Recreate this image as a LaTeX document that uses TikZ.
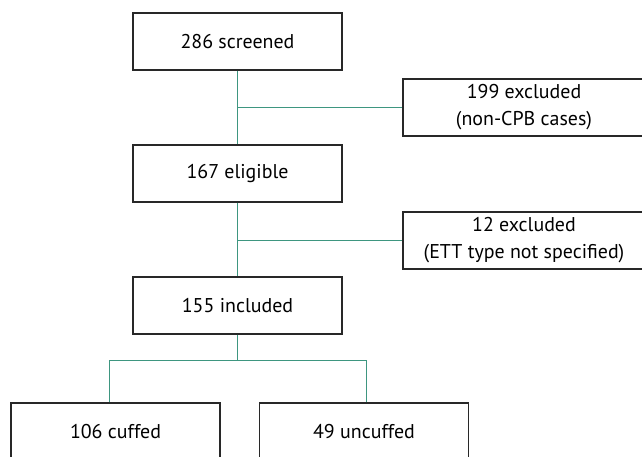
\documentclass[tikz,border=0pt]{standalone}
\usepackage{fontspec}
\setmainfont{PT Sans}
\definecolor{conn}{RGB}{62,150,128}
\definecolor{boxline}{RGB}{40,40,40}
\begin{document}
\begin{tikzpicture}[x=1bp,y=-1bp,
  box/.style={draw=boxline,line width=1.3bp,fill=white,minimum width=209bp,minimum height=57bp,inner sep=0pt,align=center,font=\fontsize{20}{27}\selectfont},
  exbox/.style={box,minimum width=242bp},
  conline/.style={draw=conn,line width=1.2bp}]
\useasboundingbox (0,0) rectangle (642,457);
\clip (0,0) rectangle (642,457);
\node[box] (s) at (237.5,41.5) {286 screened};
\node[exbox] (e1) at (524,107.5) {199 excluded\\(non-CPB cases)};
\node[box] (el) at (237.5,173.5) {167 eligible};
\node[exbox] (e2) at (524,240.5) {12 excluded\\(ETT type not specified)};
\node[box] (in) at (237.5,305.5) {155 included};
\node[box] (cu) at (115.5,431.5) {106 cuffed};
\node[box] (un) at (364,431.5) {49 uncuffed};
\coordinate (br) at (237.5,360.5);
\draw[conline] (s.south) -- (el.north);
\draw[conline] (el.south) -- (in.north);
\draw[conline] (s.south |- e1.west) -- (e1.west);
\draw[conline] (el.south |- e2.west) -- (e2.west);
\draw[conline] (in.south) -- (br);
\draw[conline] ([xshift=-6bp]cu.north) |- (br) -| ([xshift=2.5bp]un.north);
\end{tikzpicture}
\end{document}
